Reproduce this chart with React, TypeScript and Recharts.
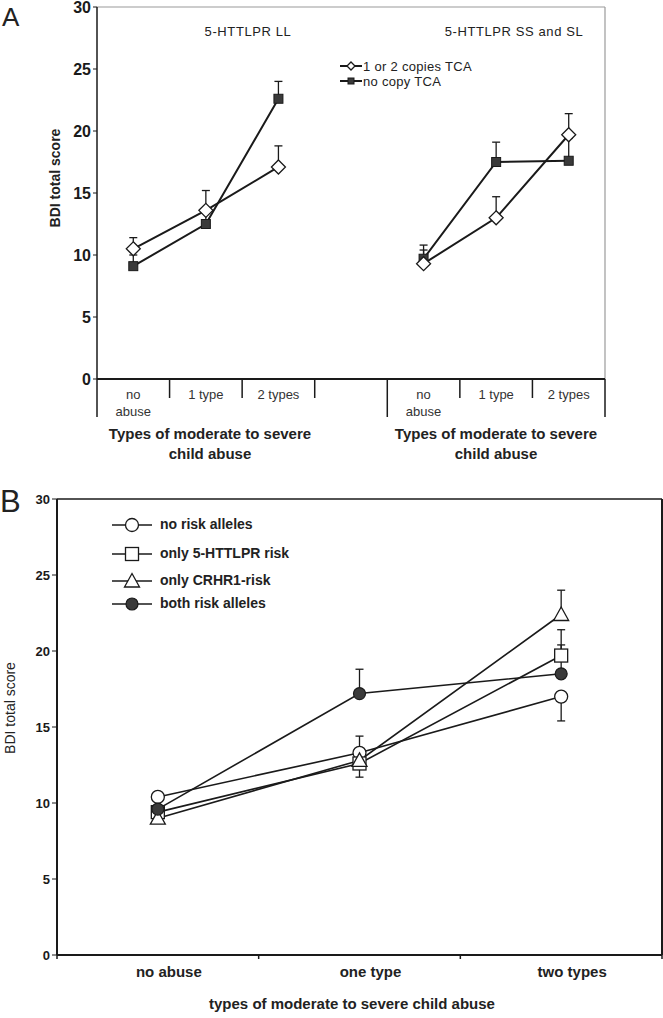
import React from 'react';
import { LineChart, Line, XAxis, YAxis, ErrorBar, ReferenceLine } from 'recharts';

const FONT = '"Liberation Sans", Arial, Helvetica, sans-serif';
const INK = '#1a1a1a';

// Panel A: 5-HTTLPR x TCA haplotype
const categoriesA = ['no\nabuse', '1 type', '2 types', '', 'no\nabuse', '1 type', '2 types'];
const copiesTCA = [10.5, 13.6, 17.1, null, 9.3, 13.0, 19.7];
const copiesTCATop = [11.4, 15.2, 18.8, null, 10.4, 14.7, 21.4];
const noCopyTCA = [9.1, 12.5, 22.6, null, 9.7, 17.5, 17.6];
const noCopyTCATop = [10.0, 13.4, 24.0, null, 10.8, 19.1, 19.4];
const yTicks = [0, 5, 10, 15, 20, 25, 30];

// Panel B: risk allele combinations
const categoriesB = ['no abuse', 'one type', 'two types'];
const noRisk = [10.4, 13.3, 17.0];
const noRiskBar = [null, [13.3, 14.4], [15.4, 17.0]];
const httRisk = [9.4, 12.6, 19.7];
const httRiskBar = [null, [11.7, 12.6], [19.7, 21.4]];
const crhrRisk = [9.0, 12.8, 22.4];
const crhrRiskBar = [null, null, [22.4, 24.0]];
const bothRisk = [9.6, 17.2, 18.5];
const bothRiskBar = [null, [17.2, 18.8], [18.5, 20.4]];

const errUp = (v: number | null, top: number | null) =>
  v == null || top == null ? null : [0, +(top - v).toFixed(2)];
const errRange = (v: number, r: number[] | null) =>
  r == null ? null : [+(v - r[0]).toFixed(2), +(r[1] - v).toFixed(2)];

const dataA = categoriesA.map((c, i) => ({
  x: i + 0.5,
  copies: copiesTCA[i],
  copiesErr: errUp(copiesTCA[i], copiesTCATop[i]),
  none: noCopyTCA[i],
  noneErr: errUp(noCopyTCA[i], noCopyTCATop[i]),
}));

const dataB = categoriesB.map((c, i) => ({
  x: i + 0.5,
  noRisk: noRisk[i],
  noRiskErr: errRange(noRisk[i], noRiskBar[i]),
  htt: httRisk[i],
  httErr: errRange(httRisk[i], httRiskBar[i]),
  crhr: crhrRisk[i],
  crhrErr: errRange(crhrRisk[i], crhrRiskBar[i]),
  both: bothRisk[i],
  bothErr: errRange(bothRisk[i], bothRiskBar[i]),
}));

const ticksA = Array.from({ length: categoriesA.length * 2 + 1 }, (_, i) => i / 2);
const ticksB = Array.from({ length: categoriesB.length * 2 + 1 }, (_, i) => i / 2);

// markers
const Diamond = ({ cx, cy, s = 7 }: any) => (
  <path d={`M${cx},${cy - s}L${cx + s},${cy}L${cx},${cy + s}L${cx - s},${cy}Z`} fill="#fff" stroke={INK} strokeWidth={1.3} />
);
const FilledSquare = ({ cx, cy, s = 4.5 }: any) => (
  <rect x={cx - s} y={cy - s} width={s * 2} height={s * 2} fill="#3a3a3a" stroke={INK} strokeWidth={1} />
);
const OpenCircle = ({ cx, cy, r = 6.5 }: any) => <circle cx={cx} cy={cy} r={r} fill="#fff" stroke={INK} strokeWidth={1.3} />;
const OpenSquare = ({ cx, cy, s = 6.5 }: any) => (
  <rect x={cx - s} y={cy - s} width={s * 2} height={s * 2} fill="#fff" stroke={INK} strokeWidth={1.3} />
);
const OpenTriangle = ({ cx, cy, s = 7.5 }: any) => (
  <path d={`M${cx},${cy - s}L${cx + s},${cy + s * 0.8}L${cx - s},${cy + s * 0.8}Z`} fill="#fff" stroke={INK} strokeWidth={1.3} />
);
const FilledCircle = ({ cx, cy, r = 6 }: any) => <circle cx={cx} cy={cy} r={r} fill="#3a3a3a" stroke={INK} strokeWidth={1.2} />;

const dotOf = (Shape: any) => (p: any) =>
  p.value == null || p.cy == null ? <g key={p.index} /> : <Shape key={p.index} cx={p.cx} cy={p.cy} />;

const ATick = ({ x, y, payload }: any) => {
  const v = payload.value;
  if (Number.isInteger(v)) {
    const long = v === 0 || v === categoriesA.length || categoriesA[v - 1] === '';
    return <line x1={x} x2={x} y1={y} y2={y + (long ? 38 : 19)} stroke={INK} strokeWidth={1.5} />;
  }
  const lines = categoriesA[Math.floor(v)].split('\n');
  return (
    <text x={x} y={y + 20} textAnchor="middle" fontSize={13} fill="#333" fontFamily={FONT}>
      {lines.map((l, k) => (
        <tspan key={k} x={x} dy={k === 0 ? 0 : 17}>{l}</tspan>
      ))}
    </text>
  );
};

const BTick = ({ x, y, payload }: any) => {
  const v = payload.value;
  if (Number.isInteger(v)) {
    return <line x1={x} x2={x} y1={y} y2={y + 4} stroke={INK} strokeWidth={1.5} />;
  }
  return (
    <text x={x + 11} y={y + 22} textAnchor="middle" fontSize={15} fontWeight="bold" fill="#222" fontFamily={FONT}>
      {categoriesB[Math.floor(v)]}
    </text>
  );
};

const abs = (left: number, top: number, extra: React.CSSProperties = {}): React.CSSProperties => ({
  position: 'absolute',
  left,
  top,
  fontFamily: FONT,
  color: '#222',
  whiteSpace: 'nowrap',
  lineHeight: 1,
  ...extra,
});

const errCarrier = (key: string, errKey: string) => (
  <Line key={key + 'e'} dataKey={key} stroke="none" dot={false} activeDot={false} isAnimationActive={false} legendType="none">
    <ErrorBar dataKey={errKey} width={4} stroke={INK} strokeWidth={1.3} direction="y" />
  </Line>
);

const legendB = [
  { label: 'no risk alleles', Shape: OpenCircle, top: 516 },
  { label: 'only 5-HTTLPR risk', Shape: OpenSquare, top: 545 },
  { label: 'only CRHR1-risk', Shape: OpenTriangle, top: 572 },
  { label: 'both risk alleles', Shape: FilledCircle, top: 595 },
];

export default function App() {
  return (
    <div style={{ position: 'absolute', left: 0, top: 0, width: 663, height: 1018, background: '#fff', overflow: 'hidden' }}>
      {/* Panel A */}
      <div style={{ position: 'absolute', left: 0, top: 0 }}>
        <LineChart width={663} height={470} data={dataA} margin={{ top: 7, right: 58, bottom: 0, left: 0 }}>
          <XAxis
            dataKey="x"
            type="number"
            domain={[0, categoriesA.length]}
            ticks={ticksA}
            interval={0}
            height={91}
            tickSize={0}
            tickMargin={0}
            tick={<ATick />}
            axisLine={{ stroke: INK, strokeWidth: 2 }}
          />
          <YAxis
            domain={[0, 30]}
            ticks={yTicks}
            width={97}
            tickSize={4}
            interval={0}
            tick={{ fontSize: 16, fontWeight: 'bold', fill: INK, fontFamily: FONT }}
            axisLine={{ stroke: INK, strokeWidth: 1.5 }}
            tickLine={{ stroke: INK }}
          />
          <ReferenceLine y={30} stroke="#9a9a9a" strokeWidth={1.2} />
          <ReferenceLine x={categoriesA.length} stroke="#9a9a9a" strokeWidth={1.2} />
          {errCarrier('none', 'noneErr')}
          {errCarrier('copies', 'copiesErr')}
          <Line dataKey="none" stroke={INK} strokeWidth={2} dot={dotOf(FilledSquare)} activeDot={false} isAnimationActive={false} />
          <Line dataKey="copies" stroke={INK} strokeWidth={2} dot={dotOf(Diamond)} activeDot={false} isAnimationActive={false} />
        </LineChart>
      </div>
      <div style={abs(2, 4, { fontSize: 26 })}>A</div>
      <div style={abs(248, 25, { fontSize: 13, letterSpacing: 0.6, transform: 'translateX(-50%)' })}>5-HTTLPR LL</div>
      <div style={abs(514, 25, { fontSize: 13, letterSpacing: 0.6, transform: 'translateX(-50%)' })}>5-HTTLPR SS and SL</div>
      <svg style={{ position: 'absolute', left: 336, top: 58 }} width={30} height={32}>
        <line x1={4} x2={26} y1={8} y2={8} stroke={INK} strokeWidth={2} />
        <Diamond cx={15} cy={8} s={4} />
        <line x1={4} x2={26} y1={23} y2={23} stroke={INK} strokeWidth={2} />
        <FilledSquare cx={15} cy={23} s={3} />
      </svg>
      <div style={abs(363, 60, { fontSize: 13, letterSpacing: 0.3 })}>1 or 2 copies TCA</div>
      <div style={abs(363, 75, { fontSize: 13, letterSpacing: 0.3 })}>no copy TCA</div>
      <div style={abs(55, 178, { fontSize: 14, fontWeight: 'bold', transform: 'translate(-50%, -50%) rotate(-90deg)' })}>BDI total score</div>
      <div style={abs(210, 424, { fontSize: 15, fontWeight: 'bold', textAlign: 'center', lineHeight: '20px', transform: 'translateX(-50%)' })}>
        Types of moderate to severe
        <br />
        child abuse
      </div>
      <div style={abs(496, 424, { fontSize: 15, fontWeight: 'bold', textAlign: 'center', lineHeight: '20px', transform: 'translateX(-50%)' })}>
        Types of moderate to severe
        <br />
        child abuse
      </div>

      {/* Panel B */}
      <div style={{ position: 'absolute', left: 0, top: 480 }}>
        <LineChart width={663} height={538} data={dataB} margin={{ top: 19, right: 1, bottom: 0, left: 0 }}>
          <XAxis
            dataKey="x"
            type="number"
            domain={[0, categoriesB.length]}
            ticks={ticksB}
            interval={0}
            height={63}
            tickSize={0}
            tickMargin={0}
            tick={<BTick />}
            axisLine={{ stroke: INK, strokeWidth: 2 }}
          />
          <YAxis
            domain={[0, 30]}
            ticks={yTicks}
            width={57}
            tickSize={5}
            interval={0}
            tick={{ fontSize: 13, fontWeight: 'bold', fill: INK, fontFamily: FONT }}
            axisLine={{ stroke: INK, strokeWidth: 2 }}
            tickLine={{ stroke: INK }}
          />
          <ReferenceLine y={30} stroke={INK} strokeWidth={1.5} />
          <ReferenceLine x={categoriesB.length} stroke={INK} strokeWidth={2} />
          {errCarrier('noRisk', 'noRiskErr')}
          {errCarrier('htt', 'httErr')}
          {errCarrier('crhr', 'crhrErr')}
          {errCarrier('both', 'bothErr')}
          <Line dataKey="noRisk" stroke={INK} strokeWidth={1.6} dot={dotOf(OpenCircle)} activeDot={false} isAnimationActive={false} />
          <Line dataKey="htt" stroke={INK} strokeWidth={1.6} dot={dotOf(OpenSquare)} activeDot={false} isAnimationActive={false} />
          <Line dataKey="crhr" stroke={INK} strokeWidth={1.6} dot={dotOf(OpenTriangle)} activeDot={false} isAnimationActive={false} />
          <Line dataKey="both" stroke={INK} strokeWidth={1.6} dot={dotOf(FilledCircle)} activeDot={false} isAnimationActive={false} />
        </LineChart>
      </div>
      <div style={abs(0, 486, { fontSize: 31 })}>B</div>
      {legendB.map(({ label, Shape, top }) => (
        <React.Fragment key={label}>
          <svg style={{ position: 'absolute', left: 110, top }} width={46} height={18}>
            <line x1={2} x2={42} y1={9} y2={9} stroke={INK} strokeWidth={1.6} />
            <Shape cx={22} cy={9} />
          </svg>
          <div style={abs(160, top + 1, { fontSize: 14, fontWeight: 'bold' })}>{label}</div>
        </React.Fragment>
      ))}
      <div style={abs(10, 708, { fontSize: 14, transform: 'translate(-50%, -50%) rotate(-90deg)' })}>BDI total score</div>
      <div style={abs(352, 996, { fontSize: 15, fontWeight: 'bold', transform: 'translateX(-50%)' })}>
        types of moderate to severe child abuse
      </div>
    </div>
  );
}
